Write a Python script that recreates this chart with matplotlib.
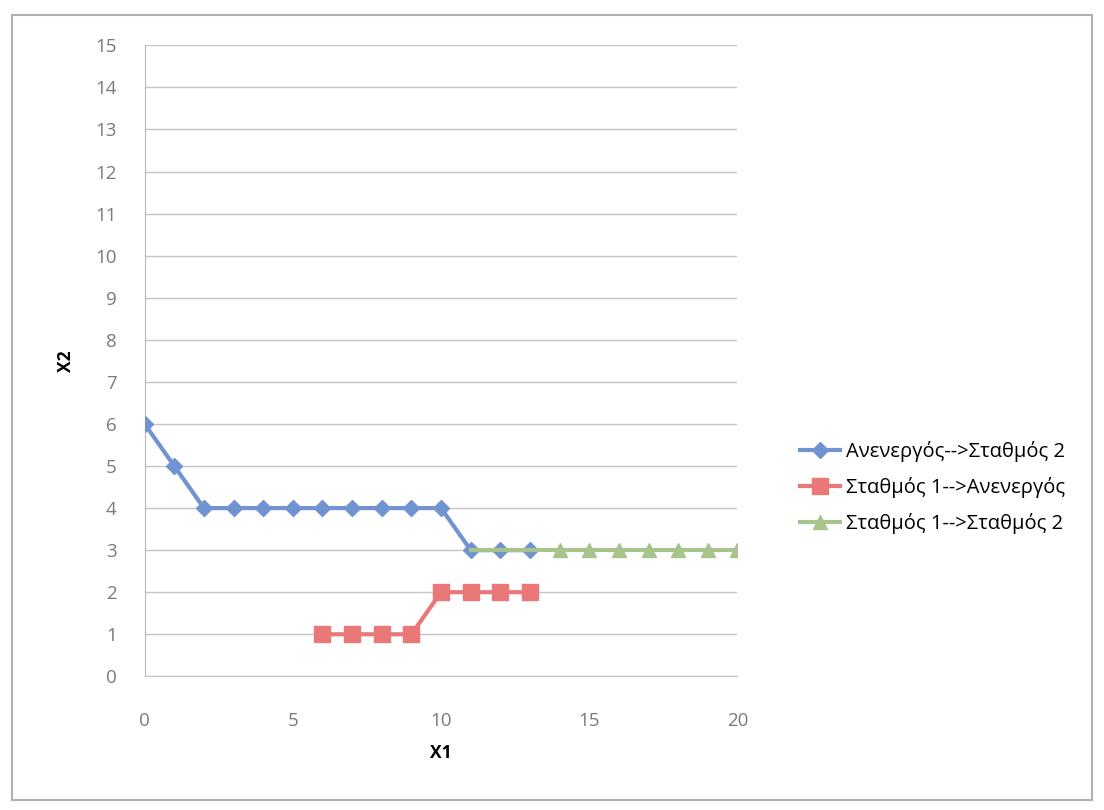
import matplotlib
matplotlib.use("Agg")
import matplotlib.pyplot as plt
from matplotlib.patches import Rectangle

plt.rcParams['font.family'] = ['Open Sans', 'DejaVu Sans']

# series data
x_idle = [0, 1, 2, 3, 4, 5, 6, 7, 8, 9, 10, 11, 12, 13]
y_idle = [6, 5, 4, 4, 4, 4, 4, 4, 4, 4, 4, 3, 3, 3]
x_s1_idle = [6, 7, 8, 9, 10, 11, 12, 13]
y_s1_idle = [1, 1, 1, 1, 2, 2, 2, 2]
x_s1_s2 = [11, 12, 13, 14, 15, 16, 17, 18, 19, 20]
y_s1_s2 = [3, 3, 3, 3, 3, 3, 3, 3, 3, 3]

labels = ['Ανενεργός-->Σταθμός 2', 'Σταθμός 1-->Ανενεργός', 'Σταθμός 1-->Σταθμός 2']
x_ticks = [0, 5, 10, 15, 20]
y_ticks = list(range(0, 16))

blue = '#7193D2'
red = '#EA7878'
green = '#A6C48C'

fig = plt.figure(figsize=(11.04, 8.1), dpi=100)
fig.patches.append(Rectangle((12 / 1104, 10 / 810), 1080 / 1104, 785 / 810,
                             transform=fig.transFigure, fill=False,
                             edgecolor='#b0b0b0', linewidth=1.5))

ax = fig.add_axes([0.131, 0.165, 0.537, 0.779])

ax.plot(x_idle, y_idle, color=blue, lw=3, marker='D', ms=8, zorder=3, label=labels[0])
ax.plot(x_s1_idle, y_s1_idle, color=red, lw=3, marker='s', ms=12, zorder=3, label=labels[1])
ax.plot(x_s1_s2, y_s1_s2, color=green, lw=3, marker='^', ms=10, markevery=list(range(3, 10)),
        zorder=4, label=labels[2])

ax.set_xlim(0, 20)
ax.set_ylim(0, 15)
ax.set_xticks(x_ticks)
ax.set_yticks(y_ticks)
ax.grid(axis='y', color='#c4c4c4', lw=1)
ax.set_axisbelow(True)
for s in ['top', 'right']:
    ax.spines[s].set_visible(False)
ax.spines['left'].set_color('#b8b8b8')
ax.spines['bottom'].set_color('#c4c4c4')
ax.tick_params(length=0, labelsize=13.5, labelcolor='#7a7a7a')
ax.tick_params(axis='y', pad=20)
ax.tick_params(axis='x', pad=26)

ax.set_xlabel('X1', fontsize=12.5, fontweight='bold', labelpad=10)
ax.set_ylabel('X2', fontsize=12.5, fontweight='bold', labelpad=15)

ax.legend(loc='center left', bbox_to_anchor=(1.075, 0.299), frameon=False,
          fontsize=14.5, handlelength=2.0, labelspacing=0.75, handletextpad=0.3)

fig.savefig('out.png', dpi=100, facecolor='white')
